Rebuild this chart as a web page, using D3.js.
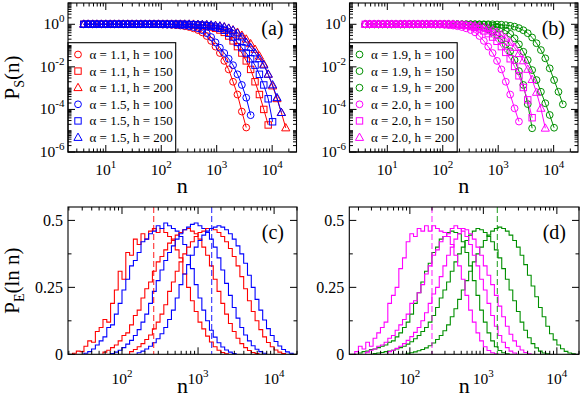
<!DOCTYPE html>
<html>
<head>
<meta charset="utf-8">
<script src="https://cdn.jsdelivr.net/npm/d3@7"></script>
<style>
body { margin: 0; background: #fff; }
svg { display: block; font-family: "Liberation Serif", "Times New Roman", serif; }
</style>
</head>
<body>
<svg width="581" height="398"></svg>
<script>
// ---- data: survival curves, markers sit on one log grid of n ----
var nGrid = [4, 4.8, 5.8, 6.9, 8.3, 10, 12, 14.3, 17.2, 20.6, 24.8, 29.7, 35.7, 42.8, 51.4, 61.7, 74, 89,
  107, 128, 154, 184, 221, 265, 319, 382, 459, 551, 661, 793, 952, 1142, 1370, 1645, 1974, 2368, 2842,
  3411, 4093, 4912, 5894, 7073, 8488, 10185, 12222, 14667, 17600];

// log10 P_S(n), one value per grid point until the curve ends
var lgA11h100 = [0,0,0,0,0,0,0,0,0,0,0,0,0,0,0,0,0,0,
  -0.01,-0.015,-0.025,-0.04,-0.06,-0.09,-0.13,-0.19,-0.27,-0.38,-0.55,-0.78,-1.05,-1.35,-1.72,-2.12,-2.70,-3.30,-4.10,-4.85];
var lgA11h150 = [0,0,0,0,0,0,0,0,0,0,0,0,0,0,0,0,0,0,0,0,0,0,0,
  -0.01,-0.015,-0.025,-0.04,-0.06,-0.09,-0.13,-0.19,-0.27,-0.38,-0.55,-0.78,-1.05,-1.35,-1.72,-2.12,-2.70,-3.30,-4.00,-4.73];
var lgA11h200 = [0,0,0,0,0,0,0,0,0,0,0,0,0,0,0,0,0,0,0,0,0,0,0,0,0,0,
  -0.01,-0.015,-0.025,-0.04,-0.06,-0.09,-0.13,-0.19,-0.27,-0.38,-0.52,-0.70,-0.92,-1.18,-1.50,-1.88,-2.35,-2.90,-3.50,-4.15,-4.87];
var lgA15h100 = [0,0,0,0,0,0,0,0,0,0,0,0,0,0,0,0,0,0,
  -0.01,-0.015,-0.02,-0.03,-0.045,-0.065,-0.09,-0.13,-0.19,-0.28,-0.42,-0.60,-0.85,-1.10,-1.35,-1.62,-1.92,-2.35,-2.85,-3.45,-4.27];
var lgA15h150 = [0,0,0,0,0,0,0,0,0,0,0,0,0,0,0,0,0,0,0,0,0,0,0,
  -0.01,-0.015,-0.02,-0.03,-0.045,-0.065,-0.09,-0.13,-0.19,-0.28,-0.42,-0.60,-0.85,-1.10,-1.35,-1.62,-1.92,-2.35,-2.85,-3.50,-4.58];
var lgA15h200 = [0,0,0,0,0,0,0,0,0,0,0,0,0,0,0,0,0,0,0,0,0,0,0,0,0,
  -0.01,-0.015,-0.02,-0.03,-0.045,-0.065,-0.09,-0.13,-0.19,-0.28,-0.42,-0.60,-0.85,-1.10,-1.35,-1.62,-1.92,-2.35,-2.85,-3.45,-4.15];

var lgA19h100 = [0,0,0,0,0,0,0,0,0,0,0,0,0,0,0,0,0,0,0,0,0,0,
  -0.01,-0.02,-0.035,-0.06,-0.10,-0.16,-0.24,-0.35,-0.50,-0.70,-0.95,-1.27,-1.68,-2.20,-2.85,-3.75,-4.885];
var lgA19h150 = [0,0,0,0,0,0,0,0,0,0,0,0,0,0,0,0,0,0,0,0,0,0,0,0,0,0,
  -0.01,-0.02,-0.04,-0.07,-0.12,-0.19,-0.30,-0.45,-0.66,-0.94,-1.29,-1.68,-2.15,-2.62,-3.17,-3.71,-4.26,-4.86];
var lgA19h200 = [0,0,0,0,0,0,0,0,0,0,0,0,0,0,0,0,0,0,0,0,0,0,0,0,0,0,0,0,0,0,
  -0.01,-0.02,-0.04,-0.07,-0.11,-0.18,-0.28,-0.42,-0.62,-0.89,-1.21,-1.60,-2.07,-2.62,-3.17,-3.76];
var lgA20h100 = [0,0,0,0,0,0,0,0,0,0,0,0,0,0,0,0,
  -0.01,-0.015,-0.025,-0.04,-0.06,-0.09,-0.13,-0.19,-0.27,-0.38,-0.55,-0.78,-1.05,-1.35,-1.72,-2.12,-2.70,-3.30,-3.95,-4.57];
var lgA20h150 = [0,0,0,0,0,0,0,0,0,0,0,0,0,0,0,0,0,0,0,
  -0.01,-0.015,-0.025,-0.04,-0.06,-0.09,-0.14,-0.21,-0.31,-0.44,-0.60,-0.80,-1.05,-1.32,-1.62,-1.98,-2.42,-2.97,-3.55,-4.39];
var lgA20h200 = [0,0,0,0,0,0,0,0,0,0,0,0,0,0,0,0,0,0,0,0,0,
  -0.01,-0.02,-0.03,-0.05,-0.07,-0.10,-0.14,-0.20,-0.28,-0.38,-0.50,-0.66,-0.85,-1.09,-1.38,-1.72,-2.12,-2.60,-3.20,-3.95,-4.885];

var legendA = ["α = 1.1, h = 100", "α = 1.1, h = 150", "α = 1.1, h = 200",
               "α = 1.5, h = 100", "α = 1.5, h = 150", "α = 1.5, h = 200"];
var legendB = ["α = 1.9, h = 100", "α = 1.9, h = 150", "α = 1.9, h = 200",
               "α = 2.0, h = 100", "α = 2.0, h = 150", "α = 2.0, h = 200"];

// ---- data: histograms P_E(ln n), bins of 0.05 in log10 n ----
var binW = 0.05;
// log10 n of the first bin edge, same order as the arrays below
var cStart = [1.35, 1.50, 1.75, 1.85, 2.10, 2.20];
var dStart = [1.30, 1.50, 1.95, 1.25, 1.40, 1.70];

var cA11h100 = [0.004,0.012,0.01,0.03,0.05,0.045,0.085,0.10,0.13,0.12,0.19,0.24,0.31,0.28,0.38,0.37,0.43,0.41,0.45,0.43,
  0.46,0.47,0.455,0.47,0.455,0.44,0.425,0.39,0.36,0.30,0.25,0.20,0.16,0.12,0.095,0.068,0.046,0.028,0.015,0.007,0.002];
var cA15h100 = [0.004,0.01,0.02,0.035,0.05,0.065,0.10,0.11,0.15,0.19,0.24,0.28,0.33,0.35,0.38,0.42,0.43,0.45,0.46,0.48,
  0.47,0.49,0.48,0.47,0.46,0.44,0.41,0.37,0.32,0.26,0.21,0.165,0.125,0.09,0.064,0.043,0.027,0.016,0.008,0.003];
var cA11h150 = [0.008,0.015,0.025,0.035,0.05,0.07,0.08,0.11,0.145,0.165,0.21,0.245,0.27,0.31,0.345,0.365,0.39,0.415,0.43,0.445,
  0.455,0.465,0.47,0.46,0.45,0.43,0.40,0.37,0.33,0.28,0.235,0.19,0.15,0.115,0.085,0.06,0.04,0.025,0.014,0.007,0.003];
var cA15h150 = [0.003,0.008,0.015,0.025,0.038,0.052,0.07,0.092,0.12,0.15,0.19,0.235,0.275,0.315,0.35,0.38,0.405,0.43,0.45,0.465,
  0.475,0.485,0.49,0.48,0.47,0.455,0.43,0.40,0.36,0.315,0.265,0.22,0.175,0.135,0.10,0.072,0.05,0.032,0.019,0.01,0.004];
var cA11h200 = [0.01,0.018,0.028,0.04,0.055,0.072,0.095,0.12,0.15,0.185,0.235,0.27,0.31,0.345,0.375,0.40,0.42,0.44,0.455,0.46,
  0.47,0.47,0.465,0.455,0.44,0.42,0.395,0.365,0.33,0.29,0.245,0.20,0.16,0.125,0.092,0.065,0.044,0.028,0.016,0.008,0.003];
var cA15h200 = [0.006,0.012,0.02,0.03,0.043,0.058,0.077,0.10,0.13,0.165,0.21,0.26,0.30,0.335,0.37,0.40,0.425,0.445,0.46,0.47,
  0.475,0.48,0.475,0.465,0.45,0.43,0.405,0.375,0.34,0.295,0.25,0.205,0.165,0.128,0.096,0.07,0.048,0.031,0.018,0.009,0.004];

var dA19h100 = [0.005,0.01,0.012,0.018,0.02,0.025,0.03,0.035,0.045,0.05,0.065,0.08,0.10,0.12,0.15,0.19,0.23,0.27,0.31,0.34,
  0.38,0.40,0.43,0.44,0.455,0.46,0.455,0.45,0.42,0.38,0.33,0.275,0.22,0.165,0.12,0.08,0.05,0.028,0.014,0.006,0.002];
var dA19h150 = [0.003,0.005,0.007,0.01,0.012,0.015,0.02,0.025,0.03,0.038,0.047,0.058,0.07,0.085,0.10,0.12,0.145,0.175,0.21,0.24,
  0.27,0.31,0.345,0.375,0.40,0.425,0.445,0.46,0.47,0.465,0.455,0.44,0.42,0.39,0.36,0.32,0.28,0.24,0.20,0.16,
  0.12,0.09,0.062,0.04,0.024,0.012,0.005,0.002];
var dA19h200 = [0.004,0.006,0.009,0.013,0.018,0.024,0.032,0.042,0.055,0.07,0.088,0.11,0.14,0.17,0.205,0.24,0.275,0.31,0.345,0.375,
  0.40,0.425,0.445,0.46,0.47,0.475,0.47,0.46,0.445,0.425,0.40,0.37,0.335,0.295,0.255,0.215,0.175,0.14,0.105,0.077,
  0.054,0.035,0.021,0.011,0.005,0.002];
var dA20h100 = [0.01,0.03,0.02,0.045,0.03,0.06,0.08,0.10,0.12,0.19,0.22,0.25,0.32,0.36,0.42,0.45,0.44,0.47,0.46,0.48,
  0.46,0.48,0.47,0.46,0.455,0.44,0.41,0.37,0.33,0.28,0.22,0.165,0.12,0.08,0.05,0.028,0.014,0.006,0.002];
var dA20h150 = [0.008,0.015,0.02,0.03,0.035,0.045,0.06,0.07,0.09,0.11,0.13,0.15,0.19,0.20,0.23,0.26,0.30,0.33,0.37,0.39,
  0.42,0.44,0.45,0.47,0.48,0.47,0.46,0.44,0.41,0.37,0.33,0.28,0.24,0.19,0.145,0.105,0.07,0.045,0.025,0.012,0.005];
var dA20h200 = [0.01,0.015,0.022,0.03,0.04,0.052,0.066,0.082,0.10,0.125,0.155,0.19,0.225,0.25,0.29,0.33,0.37,0.40,0.43,0.45,
  0.47,0.465,0.45,0.43,0.40,0.37,0.33,0.295,0.26,0.22,0.18,0.14,0.105,0.075,0.05,0.03,0.016,0.007,0.002];

// dashed reference lines (n)
var cMarks = [261, 1510];
var dMarks = [200, 1550];

// ---- styles ----
var RED = "#ff0000", BLUE = "#0000ff", GREEN = "#008f00", MAG = "#ff00ff";

var svg = d3.select("svg");

var pa = {x0: 68, x1: 296.5, y0: 3, y1: 152},
    pb = {x0: 349.5, x1: 578, y0: 3, y1: 152},
    pc = {x0: 68, x1: 297, y0: 207, y1: 354.3},
    pd = {x0: 349.3, x1: 579, y0: 207, y1: 354.3};

function clip(id, p) {
  svg.append("clipPath").attr("id", id).append("rect")
      .attr("x", p.x0).attr("y", p.y0).attr("width", p.x1 - p.x0).attr("height", p.y1 - p.y0);
  return svg.append("g").attr("clip-path", "url(#" + id + ")");
}

function symbol(g, sym, x, y) {
  if (sym === "circle") {
    g.append("circle").attr("cx", x).attr("cy", y).attr("r", 3.4);
  } else if (sym === "square") {
    g.append("rect").attr("x", x - 3.2).attr("y", y - 3.2).attr("width", 6.4).attr("height", 6.4);
  } else {
    g.append("path").attr("d", "M" + x + "," + (y - 4.4) + "L" + (x + 4.1) + "," + (y + 2.9) + "L" + (x - 4.1) + "," + (y + 2.9) + "Z");
  }
}

function lowerTicks(dom) {
  var major = [], minor = [];
  for (var k = -7; k <= 5; k++) {
    for (var m = 1; m <= 9; m++) {
      var v = m * Math.pow(10, k);
      if (v < dom[0] * 0.999 || v > dom[1] * 1.001) continue;
      if (m === 1) major.push(v); else minor.push(v);
    }
  }
  return {major: major, minor: minor};
}

function frame(p) {
  svg.append("rect").attr("x", p.x0).attr("y", p.y0)
      .attr("width", p.x1 - p.x0).attr("height", p.y1 - p.y0)
      .attr("fill", "none").attr("stroke", "#000").attr("stroke-width", 1.1);
}

function xTicks(p, x, values, len) {
  var g = svg.append("g").attr("stroke", "#000").attr("stroke-width", 1);
  values.forEach(function(v) {
    var xx = x(v);
    g.append("line").attr("x1", xx).attr("x2", xx).attr("y1", p.y1).attr("y2", p.y1 - len);
    g.append("line").attr("x1", xx).attr("x2", xx).attr("y1", p.y0).attr("y2", p.y0 + len);
  });
}

function yTicks(p, y, values, len) {
  var g = svg.append("g").attr("stroke", "#000").attr("stroke-width", 1);
  values.forEach(function(v) {
    var yy = y(v);
    g.append("line").attr("y1", yy).attr("y2", yy).attr("x1", p.x0).attr("x2", p.x0 + len);
    g.append("line").attr("y1", yy).attr("y2", yy).attr("x1", p.x1).attr("x2", p.x1 - len);
  });
}

function powLabel(x, y, k, anchor) {
  var t = svg.append("text").attr("x", x).attr("y", y)
      .attr("text-anchor", anchor).attr("font-size", 15.5);
  t.append("tspan").text("10");
  t.append("tspan").attr("dy", -7).attr("font-size", 11).text(k);
  return t;
}

function panelLabel(p, s) {
  svg.append("text").attr("x", p.x1 - 13).attr("y", p.y0 + 31.5)
      .attr("text-anchor", "end").attr("font-size", 20).text(s);
}

function xTitle(p, y) {
  svg.append("text").attr("x", (p.x0 + p.x1) / 2).attr("y", y)
      .attr("text-anchor", "middle").attr("font-size", 22).text("n");
}

// ---- top row: survival ----
function survivalPanel(p, id, series, legend, tag) {
  var x = d3.scaleLog().domain([2.08, 2.75e4]).range([p.x0, p.x1]);
  var y = d3.scaleLog().domain([1e-6, 10]).range([p.y1, p.y0]);
  var g = clip(id, p);
  var line = d3.line().x(function(d) { return x(d[0]); }).y(function(d) { return y(d[1]); });

  series.forEach(function(s) {
    var pts = s.lg.map(function(v, i) { return [nGrid[i], Math.pow(10, v)]; });
    g.append("path").attr("d", line(pts)).attr("fill", "none")
        .attr("stroke", s.color).attr("stroke-width", 1);
    var mg = g.append("g").attr("fill", "none").attr("stroke", s.color).attr("stroke-width", 1);
    pts.forEach(function(d) { symbol(mg, s.sym, x(d[0]), y(d[1])); });
  });

  // legend box
  var lx = p.x0, ly = 42.7;
  svg.append("rect").attr("x", lx).attr("y", ly).attr("width", 107.7).attr("height", p.y1 - ly)
      .attr("fill", "#fff").attr("stroke", "#000").attr("stroke-width", 1.1);
  series.forEach(function(s, i) {
    var yy = 54.5 + i * 16.6;
    var mg = svg.append("g").attr("fill", "none").attr("stroke", s.color).attr("stroke-width", 1);
    symbol(mg, s.sym, lx + 10, yy);
    svg.append("text").attr("x", lx + 21.5).attr("y", yy + 4.5).attr("font-size", 13).text(legend[i]);
  });

  frame(p);
  var xt = lowerTicks(x.domain());
  xTicks(p, x, xt.major, 7);
  xTicks(p, x, xt.minor, 3.5);
  var yLab = [1, 1e-2, 1e-4, 1e-6];
  var yt = lowerTicks(y.domain());
  var yMinor = yt.major.concat(yt.minor).filter(function(v) {
    return yLab.every(function(l) { return Math.abs(Math.log10(v / l)) > 1e-6; });
  });
  yTicks(p, y, yLab, 7);
  yTicks(p, y, yMinor, 3.5);

  xt.major.forEach(function(v) {
    powLabel(x(v), 175, Math.round(Math.log10(v)), "middle");
  });
  yLab.forEach(function(v) {
    powLabel(p.x0 - 3.5, y(v) + 5, Math.round(Math.log10(v)), "end");
  });
  panelLabel(p, tag);
  xTitle(p, 193);
}

survivalPanel(pa, "clipA", [
  {lg: lgA11h100, color: RED, sym: "circle"},
  {lg: lgA11h150, color: RED, sym: "square"},
  {lg: lgA11h200, color: RED, sym: "triangle"},
  {lg: lgA15h100, color: BLUE, sym: "circle"},
  {lg: lgA15h150, color: BLUE, sym: "square"},
  {lg: lgA15h200, color: BLUE, sym: "triangle"}
], legendA, "(a)");

survivalPanel(pb, "clipB", [
  {lg: lgA19h100, color: GREEN, sym: "circle"},
  {lg: lgA19h150, color: GREEN, sym: "circle"},
  {lg: lgA19h200, color: GREEN, sym: "circle"},
  {lg: lgA20h100, color: MAG, sym: "circle"},
  {lg: lgA20h150, color: MAG, sym: "square"},
  {lg: lgA20h200, color: MAG, sym: "triangle"}
], legendB, "(b)");

// ---- bottom row: histograms ----
function histPanel(p, id, xDomain, hists, starts, marks, markColors, tag) {
  var x = d3.scaleLog().domain(xDomain).range([p.x0, p.x1]);
  var y = d3.scaleLinear().domain([0, 0.55]).range([p.y1, p.y0]);
  var g = clip(id, p);
  var line = d3.line();

  hists.forEach(function(h, j) {
    var edge = function(i) { return x(Math.pow(10, starts[j] + i * binW)); };
    var pts = [[edge(0), y(0)]];
    h.vals.forEach(function(v, i) {
      pts.push([edge(i), y(v)]);
      pts.push([edge(i + 1), y(v)]);
    });
    pts.push([edge(h.vals.length), y(0)]);
    g.append("path").attr("d", line(pts)).attr("fill", "none")
        .attr("stroke", h.color).attr("stroke-width", 1.1);
  });

  marks.forEach(function(m, i) {
    g.append("line").attr("x1", x(m)).attr("x2", x(m)).attr("y1", p.y0).attr("y2", p.y1)
        .attr("stroke", markColors[i]).attr("stroke-width", 1.2).attr("stroke-opacity", 0.75)
        .attr("stroke-dasharray", "6,3");
  });

  frame(p);
  var xt = lowerTicks(x.domain());
  xTicks(p, x, xt.major, 7);
  xTicks(p, x, xt.minor, 3.5);
  yTicks(p, y, [0, 0.25, 0.5], 7);
  yTicks(p, y, [0.125, 0.375], 3.5);

  xt.major.forEach(function(v) {
    powLabel(x(v), 384, Math.round(Math.log10(v)), "middle");
  });
  [0, 0.25, 0.5].forEach(function(v) {
    svg.append("text").attr("x", p.x0 - 5).attr("y", y(v) + 5.5)
        .attr("text-anchor", "end").attr("font-size", 16).text(String(v));
  });
  panelLabel(p, tag);
  xTitle(p, 393);
}

histPanel(pc, "clipC", [19.5, 2e4], [
  {vals: cA11h100, color: RED},
  {vals: cA15h100, color: BLUE},
  {vals: cA11h150, color: RED},
  {vals: cA15h150, color: BLUE},
  {vals: cA11h200, color: RED},
  {vals: cA15h200, color: BLUE}
], cStart, cMarks, [RED, BLUE], "(c)");

histPanel(pd, "clipD", [15, 2e4], [
  {vals: dA19h100, color: GREEN},
  {vals: dA19h150, color: GREEN},
  {vals: dA19h200, color: GREEN},
  {vals: dA20h100, color: MAG},
  {vals: dA20h150, color: MAG},
  {vals: dA20h200, color: MAG}
], dStart, dMarks, [MAG, GREEN], "(d)");

// ---- axis titles ----
function yTitle(cy, main, sub, rest) {
  var t = svg.append("text").attr("transform", "translate(19," + cy + ") rotate(-90)")
      .attr("text-anchor", "middle").attr("font-size", 21);
  t.append("tspan").text(main);
  t.append("tspan").attr("dy", 4.5).attr("font-size", 14).text(sub);
  t.append("tspan").attr("dy", -4.5).text(rest);
}
yTitle((pa.y0 + pa.y1) / 2, "P", "S", "(n)");
yTitle((pc.y0 + pc.y1) / 2, "P", "E", "(ln n)");
</script>
</body>
</html>
